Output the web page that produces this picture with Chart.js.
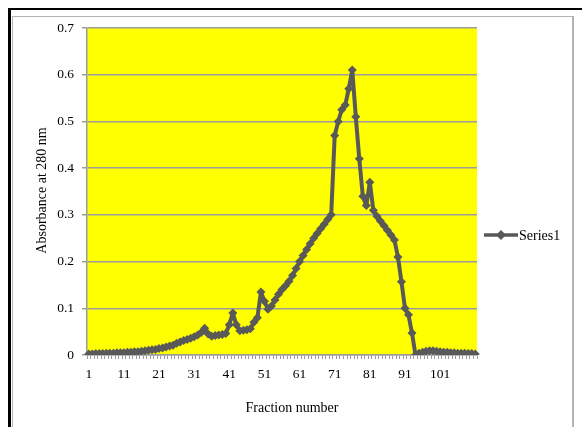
<!DOCTYPE html>
<html>
<head>
<meta charset="utf-8">
<script src="https://cdn.jsdelivr.net/npm/chart.js@4/dist/chart.umd.min.js"></script>
<style>
    html, body { margin: 0; padding: 0; background: #fff; }
    #frame { position: absolute; left: 0; top: 0; width: 582px; height: 427px; overflow: hidden; }
    #outer { position: absolute; left: 8px; top: 8px; width: 580px; height: 430px; border-top: 2px solid #000; border-left: 3px solid #000; }
    #inner { position: absolute; left: 12px; top: 16px; width: 559px; height: 420px; border: 1px solid #b4b4b4; border-right-width: 2px; }
    #chart { position: absolute; left: 0; top: 0; }
</style>
</head>
<body>
<div id="frame">
    <div id="outer"></div>
    <div id="inner"></div>
    <canvas id="chart" width="582" height="427"></canvas>
</div>
<script>
// Absorbance readings per fraction (1..111)
const absorbance = [
    0.002, 0.002, 0.003, 0.003, 0.003, 0.004, 0.004, 0.004, 0.005, 0.005,
    0.005, 0.006, 0.006, 0.007, 0.007, 0.008, 0.009, 0.010, 0.011, 0.012,
    0.014, 0.015, 0.017, 0.019, 0.021, 0.025, 0.028, 0.031, 0.033, 0.036,
    0.039, 0.043, 0.048, 0.057, 0.045, 0.040, 0.042, 0.043, 0.044, 0.046,
    0.065, 0.090, 0.065, 0.052, 0.053, 0.054, 0.056, 0.070, 0.080, 0.135,
    0.115, 0.098, 0.105, 0.118, 0.130, 0.140, 0.148, 0.158, 0.170, 0.185,
    0.200, 0.213, 0.226, 0.238, 0.250, 0.260, 0.270, 0.280, 0.290, 0.300,
    0.470, 0.500, 0.525, 0.535, 0.570, 0.610, 0.510, 0.420, 0.340, 0.320,
    0.370, 0.310, 0.297, 0.287, 0.277, 0.267, 0.257, 0.246, 0.210, 0.157,
    0.100, 0.086, 0.047, 0.000, 0.004, 0.006, 0.008, 0.009, 0.009, 0.008,
    0.007, 0.006, 0.006, 0.005, 0.005, 0.004, 0.004, 0.004, 0.003, 0.003, 0.002
];
const fractions = absorbance.map((_, i) => String(i + 1));
const xTickLabels = ['1', '11', '21', '31', '41', '51', '61', '71', '81', '91', '101'];
const yTicks = [0, 0.1, 0.2, 0.3, 0.4, 0.5, 0.6, 0.7];
const seriesName = 'Series1';
const xTitle = 'Fraction number';
const yTitle = 'Absorbance at 280 nm';

const LINE = '#595959';
const GRID = '#9c9c9c';
const FONT = '"Liberation Serif", "Times New Roman", serif';

// yellow plot area
const plotBackground = {
    id: 'plotBackground',
    beforeDraw(chart) {
        const { ctx, chartArea: a } = chart;
        ctx.save();
        ctx.fillStyle = '#ffff00';
        ctx.fillRect(a.left, a.top, a.right - a.left, a.bottom - a.top);
        ctx.restore();
    }
};

// axis titles and the Excel-style legend
const extras = {
    id: 'extras',
    afterDraw(chart) {
        const { ctx, chartArea: a } = chart;
        ctx.save();
        ctx.fillStyle = '#000';
        ctx.font = '14px ' + FONT;
        ctx.textAlign = 'center';
        ctx.textBaseline = 'middle';
        ctx.fillText(xTitle, 292, 408);

        ctx.save();
        ctx.translate(42, (a.top + a.bottom) / 2 - 1);
        ctx.rotate(-Math.PI / 2);
        ctx.fillText(yTitle, 0, 0);
        ctx.restore();

        // legend
        const ly = 235;
        ctx.strokeStyle = LINE;
        ctx.lineWidth = 3.5;
        ctx.beginPath();
        ctx.moveTo(484, ly);
        ctx.lineTo(518, ly);
        ctx.stroke();
        ctx.fillStyle = LINE;
        ctx.beginPath();
        ctx.moveTo(501, ly - 5);
        ctx.lineTo(506, ly);
        ctx.lineTo(501, ly + 5);
        ctx.lineTo(496, ly);
        ctx.closePath();
        ctx.fill();
        ctx.fillStyle = '#000';
        ctx.textAlign = 'left';
        ctx.fillText(seriesName, 519, ly + 1);
        ctx.restore();
    }
};

new Chart(document.getElementById('chart'), {
    type: 'line',
    data: {
        labels: fractions,
        datasets: [{
            label: seriesName,
            data: absorbance,
            borderColor: LINE,
            backgroundColor: LINE,
            borderWidth: 4,
            borderJoinStyle: 'round',
            borderCapStyle: 'round',
            tension: 0,
            pointStyle: 'rectRot',
            pointRadius: 4.5,
            pointBorderWidth: 0,
            pointBackgroundColor: LINE
        }]
    },
    options: {
        responsive: false,
        animation: false,
        devicePixelRatio: 1,
        layout: { padding: { left: 0, top: 28, right: 105, bottom: 0 } },
        plugins: {
            legend: { display: false },
            tooltip: { enabled: false }
        },
        scales: {
            x: {
                type: 'category',
                offset: true,
                afterFit: s => { s.height = 72; },
                grid: {
                    offset: true,
                    drawOnChartArea: false,
                    color: GRID,
                    tickLength: 4
                },
                border: { color: GRID, width: 1.5 },
                ticks: {
                    autoSkip: false,
                    maxRotation: 0,
                    padding: 7,
                    color: '#000',
                    font: { family: FONT, size: 13.5 },
                    callback(value, index) {
                        const lbl = this.getLabelForValue(value);
                        return xTickLabels.includes(lbl) ? lbl : '';
                    }
                }
            },
            y: {
                min: yTicks[0],
                max: yTicks[yTicks.length - 1],
                afterFit: s => { s.width = 87; },
                afterBuildTicks: s => { s.ticks = yTicks.map(v => ({ value: v })); },
                grid: { color: GRID, tickLength: 5, lineWidth: 1.5 },
                border: { color: GRID, width: 1.5 },
                ticks: {
                    padding: 8,
                    color: '#000',
                    font: { family: FONT, size: 13.5 },
                    callback: v => (v === 0 ? '0' : v.toFixed(1))
                }
            }
        }
    },
    plugins: [plotBackground, extras]
});
</script>
</body>
</html>
